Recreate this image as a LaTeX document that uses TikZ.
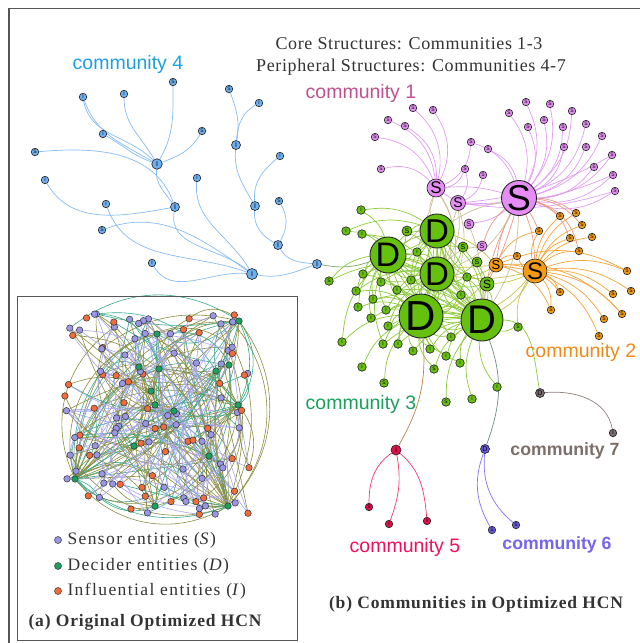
\documentclass[tikz,border=0pt]{standalone}
\usepackage{fontspec}
\setmainfont{Liberation Serif}
\setsansfont{Liberation Sans}
\pgfdeclarelayer{back}
\pgfdeclarelayer{bg}
\pgfsetlayers{back,bg,main}
\definecolor{framec}{HTML}{555555}
\definecolor{txt}{HTML}{333333}
\definecolor{c4t}{HTML}{1FA0E0}
\definecolor{c4f}{HTML}{6DB0F2}
\definecolor{c4e}{HTML}{86BDF5}
\definecolor{c1t}{HTML}{C0508F}
\definecolor{c1f}{HTML}{E68CF5}
\definecolor{c1e}{HTML}{E29CF2}
\definecolor{c2t}{HTML}{F08A1A}
\definecolor{c2f}{HTML}{F59A12}
\definecolor{c2e}{HTML}{F6A437}
\definecolor{c3t}{HTML}{1AA05A}
\definecolor{c3f}{HTML}{66C00E}
\definecolor{c3e}{HTML}{8CCB3A}
\definecolor{c5t}{HTML}{F0105A}
\definecolor{c5f}{HTML}{E0104A}
\definecolor{c5e}{HTML}{F2386A}
\definecolor{c6t}{HTML}{7464EE}
\definecolor{c6f}{HTML}{6A5AE0}
\definecolor{c6e}{HTML}{8474F2}
\definecolor{c7t}{HTML}{7D6E6A}
\definecolor{c7f}{HTML}{7A6C6C}
\definecolor{c7e}{HTML}{8E807C}
\definecolor{tane}{HTML}{CCC09E}
\definecolor{salme}{HTML}{EC9888}
\definecolor{olie}{HTML}{C8C24E}
\definecolor{brne}{HTML}{C0804A}
\definecolor{gaye}{HTML}{6F8F80}
\definecolor{asf}{HTML}{9A96E6}
\definecolor{adf}{HTML}{1AA060}
\definecolor{aif}{HTML}{F26B3A}
\definecolor{aol}{HTML}{8C8C40}
\definecolor{ate}{HTML}{36A98A}
\definecolor{ala}{HTML}{A9A7F2}
\tikzset{
  nd/.style={circle,draw=black!85,line width=0.65pt,inner sep=0pt},
  lf/.style={nd,minimum size=7.5pt,font=\sffamily\fontsize{5}{5}\selectfont},
  hb/.style={nd,minimum size=#1pt,font=\sffamily\fontsize{7}{7}\selectfont},
  big/.style={nd,line width=0.9pt,minimum size=#1pt},
  ed/.style={line width=0.7pt},
  an/.style={circle,draw=black!80,line width=0.5pt,inner sep=0pt,minimum size=6.5pt},
  ae/.style={line width=0.6pt},
  lab/.style={font=\sffamily\fontsize{19.5}{20}\selectfont},
  labb/.style={font=\sffamily\bfseries\fontsize{17.7}{18}\selectfont},
}
\begin{document}
\begin{tikzpicture}[x=1pt,y=-1pt]
\useasboundingbox (0,0) rectangle (640,643);
\begin{pgfonlayer}{back}
\fill[white] (0,0) rectangle (640,643);
\end{pgfonlayer}
% frames
\draw[framec,line width=1.6pt] (9,660) -- (9,8.5) -- (660,8.5);
\draw[framec,line width=1pt] (17,296) rectangle (297,640);

% ---------- texts ----------
\node[txt,font=\fontsize{18}{18}\selectfont] (title1) at (409,44) {\addfontfeature{LetterSpace=3.5}Core Structures: Communities 1-3};
\node[txt,font=\fontsize{18}{18}\selectfont] (title2) at (411,67) {\addfontfeature{LetterSpace=3.5}Peripheral Structures: Communities 4-7};
\node[lab,text=c4t] (t4) at (128,64) {community 4};
\node[lab,text=c1t] (t1) at (361,93) {community 1};
\node[lab,text=c2t] (t2) at (581,352) {community 2};
\node[lab,text=c3t] (t3) at (361,404) {community 3};
\node[labb,text=c7t] (t7) at (565,451) {community 7};
\node[lab,text=c5t] (t5) at (405,547) {community 5};
\node[labb,text=c6t] (t6) at (557,545) {community 6};
\node[txt,font=\bfseries\fontsize{17.5}{18}\selectfont] (lb) at (476,604) {\addfontfeature{LetterSpace=4.8}(b) Communities in Optimized HCN};
\node[txt,font=\bfseries\fontsize{17.5}{18}\selectfont] (la) at (145,622) {\addfontfeature{LetterSpace=4.8}(a) Original Optimized HCN};
% legend
\node[an,minimum size=7pt,fill=asf] (ls) at (58,540) {};
\node[an,minimum size=7pt,fill=adf] (ld) at (58,566) {};
\node[an,minimum size=7pt,fill=aif] (li) at (58,591) {};
\node[txt,anchor=west,font=\fontsize{17.5}{17}\selectfont] (lst) at (64,540) {\addfontfeature{LetterSpace=8}Sensor entities (\textit{S})};
\node[txt,anchor=west,font=\fontsize{17.5}{17}\selectfont] (ldt) at (64,566) {\addfontfeature{LetterSpace=8}Decider entities (\textit{D})};
\node[txt,anchor=west,font=\fontsize{17.5}{17}\selectfont] (lit) at (64,591) {\addfontfeature{LetterSpace=8}Influential entities (\textit{I})};

% ---------- panel (a) ----------
\pgfmathsetseed{4242}
\foreach \i in {1,...,110}{
  \pgfmathsetmacro\px{64+186*rnd}
  \pgfmathsetmacro\py{314+202*rnd}
  \pgfmathsetmacro\rt{rnd}
  \ifdim\rt pt<0.6pt \def\rcol{asf}\else\def\rcol{aif}\fi
  \node[an,fill=\rcol] (r\i) at (\px,\py) {};
}
\foreach \n/\x/\y in {gA/239/321,gB/157/334,gC/139/367,gD/159/369,gE/216/371,gF/229/365,gG/151/391,gH/155/405,gI/174/411,gJ/238/405,gK/134/446,gL/209/456,gM/75/479,gN/155/506,gO/228/506}{
  \node[an,fill=adf] (\n) at (\x,\y) {};
}
\begin{pgfonlayer}{bg}
\pgfmathsetseed{99}
\foreach \h/\m in {gM/30,gO/30,gJ/22,gD/22,gI/16,gA/10,gB/7,gC/6,gE/8,gF/8,gG/6,gH/7,gK/7,gL/9,gN/9}{
  \foreach \k in {1,...,\m}{
    \pgfmathrandominteger{\tg}{1}{110}
    \pgfmathrandominteger{\bb}{-45}{45}
    \pgfmathrandominteger{\cc}{0}{2}
    \ifcase\cc \def\ec{aol}\or\def\ec{ate}\else\def\ec{aol}\fi
    \draw[ae,draw=\ec] (\h) to[bend left=\bb] (r\tg);
  }
}
\foreach \k in {1,...,80}{
  \pgfmathrandominteger{\sa}{1}{110}
  \pgfmathrandominteger{\sb}{1}{110}
  \pgfmathrandominteger{\bb}{-40}{40}
  \ifnum\sa=\sb\else
  \draw[ae,draw=ala] (r\sa) to[bend left=\bb] (r\sb);
  \fi
}
\draw[ae,draw=aol] (gM) to[bend right=40] (gO);
\draw[ae,draw=ate] (gM) to[bend right=30] (gO);
\draw[ae,draw=aol] (gM) to[bend left=45] (gB);
\draw[ae,draw=aol] (gA) to[bend left=40] (gO);
\draw[ae,draw=ate] (gA) to[bend left=25] (gJ);
\draw[ae,draw=aol] (gD) to[bend left=20] (gO);
\draw[ae,draw=ate] (gM) to[bend left=10] (gJ);
\draw[ae,draw=aol] (gM) to[bend right=15] (gI);
\end{pgfonlayer}

% ---------- community 4 ----------
\foreach \n/\x/\y/\t in {c4a/83/97/I,c4b/124/94/I,c4c/173/82/S,c4d/202/131/S,c4e/103/134/I,c4f/35/152/S,c4g/45/180/I,c4h/197/178/I,c4i/106/204/I,c4j/102/230/S,c4k/152/263/I,c4l/229/89/S,c4m/259/103/I,c4n/280/156/I,c4o/279/201/S}{
  \node[lf,fill=c4f] (\n) at (\x,\y) {\t};
}
\node[hb=10.5,fill=c4f] (c4H1) at (157,164) {I};
\node[hb=9,fill=c4f] (c4H2) at (175,207) {I};
\node[hb=11,fill=c4f] (c4H3) at (252,274) {I};
\node[hb=9,fill=c4f] (c4H4) at (236,145) {I};
\node[hb=9,fill=c4f] (c4H5) at (255,206) {I};
\node[hb=9,fill=c4f] (c4H6) at (278,245) {I};
\node[hb=9,fill=c4f] (c4H7) at (317,264) {I};

% ---------- community 1 ----------
\foreach \n/\x/\y in {v1/413/108,v2/433/110,v3/388/120,v4/405/126,v5/375/137,v6/381/169,v7/471/142,v8/488/149,v9/465/169,v10/483/175,v11/526/102,v12/509/113,v13/550/104,v14/572/111,v15/528/127,v16/544/120,v17/563/127,v18/586/124,v19/602/136,v20/564/147,v21/586/147,v22/612/155,v23/594/167,v24/613/175,v25/615/191}{
  \node[lf,fill=c1f] (\n) at (\x,\y) {S};
}
\node[big=35,fill=c1f,font=\sffamily\fontsize{36}{36}\selectfont] (S1) at (519,198) {S};
\node[hb=18,fill=c1f,font=\sffamily\fontsize{17}{17}\selectfont] (S2) at (436,188) {S};
\node[hb=15,fill=c1f,font=\sffamily\fontsize{14}{14}\selectfont] (S3) at (458,203) {S};
\node[hb=10,fill=c1f] (s4) at (469,224) {S};
\node[hb=10,fill=c1f] (s5) at (482,246) {S};

% ---------- community 2 ----------
\foreach \n/\x/\y in {o1/560/216,o2/576/213,o3/582/225,o4/539/231,o5/570/238,o6/592/237,o7/579/251,o8/517/256,o9/627/271,o10/560/292,o11/613/294,o12/631/291,o13/551/310,o14/622/314,o15/604/319,o16/599/336}{
  \node[lf,fill=c2f] (\n) at (\x,\y) {S};
}
\node[hb=24,fill=c2f,font=\sffamily\fontsize{24}{24}\selectfont] (O1) at (535,271) {S};
\node[hb=14,fill=c2f,font=\sffamily\fontsize{13}{13}\selectfont] (O2) at (496,265) {S};

% ---------- community 3 ----------
\foreach \n/\x/\y/\t in {gl1/361/210/I,gl2/346/231/I,gl3/362/234/I,gl4/417/252/I,gl5/329/281/S,gl6/363/274/I,gl7/381/282/I,gl8/397/290/I,gl9/411/280/I,gl10/467/277/I,gl11/356/291/I,gl12/373/299/I,gl13/358/307/I,gl14/386/310/I,gl15/371/318/I,gl16/388/326/I,gl17/461/295/I,gl18/518/327/S,gl19/342/342/I,gl20/383/344/I,gl21/398/344/I,gl22/413/351/I,gl23/430/349/I,gl24/451/337/I,gl25/446/356/I,gl26/460/363/I,gl27/362/367/I,gl28/434/369/S,gl29/384/383/S,gl30/446/402/S,gl31/472/399/I,gl32/497/387/I}{
  \node[lf,fill=c3f,minimum size=8.5pt] (\n) at (\x,\y) {\t};
}
\node[big=34,fill=c3f,font=\sffamily\fontsize{33}{33}\selectfont] (D1) at (437,231) {D};
\node[big=36,fill=c3f,font=\sffamily\fontsize{34}{34}\selectfont] (D2) at (388,255) {D};
\node[big=34,fill=c3f,font=\sffamily\fontsize{33}{33}\selectfont] (D3) at (437,274) {D};
\node[big=44,fill=c3f,font=\sffamily\fontsize{42}{42}\selectfont] (D4) at (421,316) {D};
\node[big=42,fill=c3f,font=\sffamily\fontsize{40}{40}\selectfont] (D5) at (482,320) {D};
\node[hb=14,fill=c3f,font=\sffamily\fontsize{12}{12}\selectfont] (g1) at (487,284) {S};
\node[hb=10,fill=c3f] (g2) at (407,231) {S};
\node[hb=10,fill=c3f] (g3) at (463,247) {S};
\node[hb=10,fill=c3f] (g4) at (477,262) {S};

% ---------- communities 5,6,7 ----------
\node[hb=10,fill=c5f] (P5) at (396,450) {I};
\node[lf,fill=c5f] (p1) at (369,507) {S};
\node[lf,fill=c5f] (p2) at (389,524) {I};
\node[lf,fill=c5f] (p3) at (427,521) {I};
\node[hb=9,fill=c6f] (Q6) at (485,449) {D};
\node[lf,fill=c6f] (q1) at (492,530) {S};
\node[lf,fill=c6f] (q2) at (516,525) {S};
\node[hb=9,fill=c7f] (R7) at (540,393) {D};
\node[lf,fill=c7f] (r7) at (613,433) {I};

% ---------- edges of (b) ----------
\begin{pgfonlayer}{bg}
% community 4
\draw[ed,c4e] (c4a) to[out=280,in=135] (c4H1);
\draw[ed,c4e] (c4e) to[out=330,in=160] (c4H1);
\draw[ed,c4e] (c4a) to[out=290,in=150] (c4H1);
\draw[ed,c4e] (c4b) to[out=270,in=120] (c4H1);
\draw[ed,c4e] (c4c) to[out=270,in=60] (c4H1);
\draw[ed,c4e] (c4d) to[out=240,in=20] (c4H1);
\draw[ed,c4e] (c4f) to[out=5,in=110] (c4H2);
\draw[ed,c4e] (c4H1) to[out=265,in=125] (c4H2);
\draw[ed,c4e] (c4g) to[out=300,in=190] (c4H2);
\draw[ed,c4e] (c4i) to[out=290,in=160] (c4H3);
\draw[ed,c4e] (c4j) to[out=20,in=145] (c4H3);
\draw[ed,c4e] (c4k) to[out=300,in=175] (c4H3);
\draw[ed,c4e] (c4H2) to[out=260,in=140] (c4H3);
\draw[ed,c4e] (c4h) to[out=265,in=120] (c4H3);
\draw[ed,c4e] (c4H3) to[out=350,in=200] (c4H7);
\draw[ed,c4e] (c4H6) to[out=300,in=175] (c4H7);
\draw[ed,c4e] (c4o) to[out=300,in=60] (c4H6);
\draw[ed,c4e] (c4H5) to[out=265,in=150] (c4H6);
\draw[ed,c4e] (c4H5) to[out=95,in=220] (c4n);
\draw[ed,c4e] (c4H5) to[out=120,in=265] (c4H4);
\draw[ed,c4e] (c4H4) to[out=80,in=290] (c4l);
\draw[ed,c4e] (c4H4) to[out=85,in=210] (c4m);
\draw[ed,draw=gaye!60!c3e] (c4H7) to[out=350,in=200] (D2);
% community 1
\foreach \v in {v1,v2,v3,v4,v5,v6,v7,v9}{\draw[ed,c1e] (S2) to[bend right=30] (\v);}
\foreach \v in {v10,v9}{\draw[ed,c1e] (S3) to[bend right=25] (\v);}
\foreach \v in {v8,v11,v12,v13,v14,v15,v16,v17,v18,v19,v20,v21,v22,v23,v24,v25,v7}{\draw[ed,c1e] (S1) to[bend right=25] (\v);}
\foreach \v in {v22,v24,v25}{\draw[ed,c1e] (S3) to[bend right=12] (\v);}
\draw[ed,c1e] (S1) to[bend right=10] (S2);
\draw[ed,c1e] (S1) to[bend left=10] (S3);
\draw[ed,c1e] (S2) -- (S3);
\draw[ed,c1e] (S1) to[bend left=15] (s4);
% community 2
\foreach \o in {o1,o2,o3,o4,o5,o6,o7,o8,o9,o10,o11,o12,o13,o14,o15,o16}{\draw[ed,c2e] (O1) to[bend left=20] (\o);}
\foreach \o in {o4,o8,o10,o13,o9,o14}{\draw[ed,c2e] (O2) to[bend left=25] (\o);}
\draw[ed,c2e] (O1) -- (O2);
% salmon / tan / olive inter edges
\foreach \o/\b in {o1/10,o2/15,o3/20,o5/25,O1/10,O2/-10,s5/-15,D5/-10,g1/5,o7/30,o4/5}{\draw[ed,salme] (S1) to[bend left=\b] (\o);}
\foreach \a/\b/\c in {S2/D1/-20,S2/D2/20,S2/D3/30,S3/D3/20,S3/D5/-25,S1/D3/20,S1/D1/-10,S1/D5/15,s4/D5/10,s5/D3/-20,S2/D4/35,S3/D4/30}{\draw[ed,tane] (\a) to[bend left=\c] (\b);}
\foreach \a/\b/\c in {O1/D5/15,O1/D3/10,O2/D1/-15,O2/D4/20,O1/g1/10,O2/gl10/10,O1/D4/25,O2/D2/10,O1/gl18/-20}{\draw[ed,olie] (\a) to[bend left=\c] (\b);}
% community 3
\foreach \a/\b in {D1/D2,D1/D3,D1/D4,D1/D5,D2/D3,D2/D4,D2/D5,D3/D4,D3/D5,D4/D5}{
  \foreach \c in {-25,-10,10,25}{\draw[ed,c3e] (\a) to[bend left=\c] (\b);}
}
\foreach \l/\ds in {gl1/{D1,D2},gl2/{D2,D1},gl3/{D2,D3},gl4/{D1,D2,D3,D4},gl5/{D3,D2},gl6/{D2,D3,D4},gl7/{D2,D3,D4,D5},gl8/{D2,D3,D4,D5},gl9/{D1,D2,D3,D5},gl10/{D1,D3,D4,D5},gl11/{D2,D4,D3},gl12/{D2,D4,D5},gl13/{D2,D4},gl14/{D2,D3,D4,D5},gl15/{D4,D2},gl16/{D4,D3,D5},gl17/{D3,D4,D5,D1},gl18/{D5},gl19/{D4,D2},gl20/{D4,D2,D5},gl21/{D4,D5,D3},gl22/{D4,D5},gl23/{D4,D5,D3},gl24/{D4,D5,D3},gl25/{D4,D5},gl26/{D5,D4},gl27/{D4},gl28/{D4,D5},gl29/{D4},gl30/{D5},gl31/{D5},gl32/{D5},g1/{D3,D5,D1},g2/{D1,D2,D3},g3/{D1,D3,D5},g4/{D3,D5}}{
  \foreach \d in \ds {\draw[ed,c3e] (\l) to[bend left=20] (\d);}
}
% communities 5,6,7
\draw[ed,c5e] (P5) to[out=215,in=90] (p1);
\draw[ed,c5e] (P5) to[out=280,in=70] (p2);
\draw[ed,c5e] (P5) to[out=320,in=95] (p3);
\draw[ed,brne] (P5) to[out=60,in=275] (D4);
\draw[ed,c6e] (Q6) to[out=250,in=120] (q1);
\draw[ed,c6e] (Q6) to[out=265,in=140] (q2);
\draw[ed,gaye] (Q6) to[out=70,in=290] (D5);
\draw[ed,c7e] (R7) to[out=5,in=100] (r7);
\draw[ed,c3e] (D5) to[out=0,in=100] (R7);
\end{pgfonlayer}
\end{tikzpicture}
\end{document}
